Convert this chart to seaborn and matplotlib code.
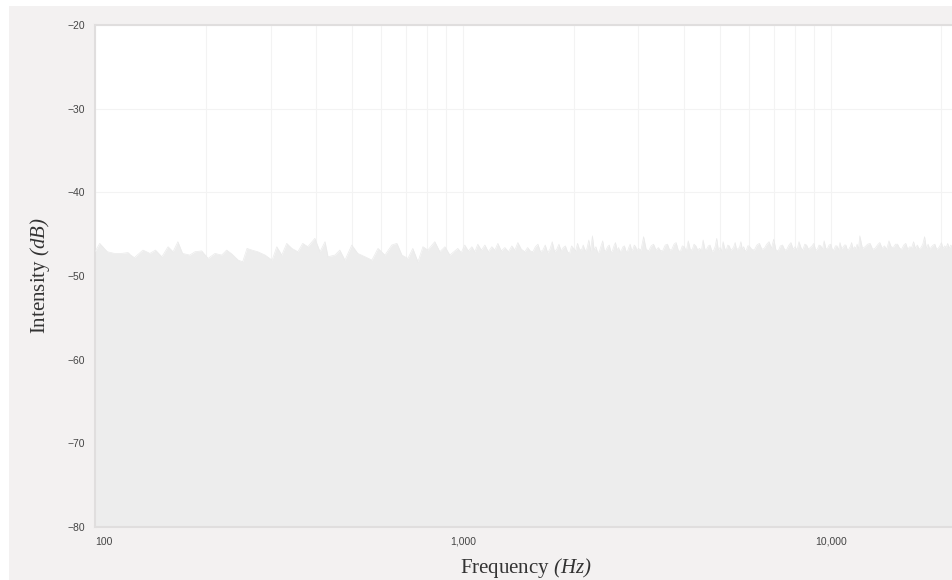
import matplotlib
matplotlib.use("Agg")
import matplotlib.pyplot as plt
import pandas as pd
import seaborn as sns
from matplotlib.patches import Rectangle
from matplotlib.ticker import FixedLocator, LogLocator, NullFormatter

# Noise-floor spectrum, low band (Hz / dB)
freq_low = [100, 103, 108, 113, 118, 123, 125, 128, 135, 141,
            146, 152, 158, 163, 168, 173, 181, 187, 195, 203,
            212, 221, 228, 236, 245, 252, 259, 267, 277, 290,
            303, 312, 322, 332, 343, 356, 367, 379, 396, 409,
            422, 430, 449, 463, 478, 499, 518, 542, 566, 588,
            614, 641, 662, 683, 709, 731, 755, 779, 803, 839,
            866, 894, 922, 969, 990, 1012, 1035, 1058, 1078, 1098,
            1123, 1148, 1173, 1199, 1222, 1245, 1272, 1301, 1330, 1359,
            1385, 1411, 1442, 1474]
level_low = [-47.1, -46.1, -47.1, -47.3, -47.3, -47.2, -47.5, -47.8, -46.9, -47.3,
             -46.9, -47.7, -46.5, -47.1, -45.9, -47.3, -47.5, -47.1, -47.0, -47.9,
             -47.3, -47.5, -46.9, -47.4, -48.1, -48.3, -46.7, -46.9, -47.1, -47.5,
             -48.1, -46.5, -47.5, -46.1, -46.7, -47.1, -46.1, -46.5, -45.5, -47.1,
             -45.9, -47.7, -47.5, -46.9, -48.1, -46.3, -47.3, -47.7, -48.1, -46.7,
             -47.5, -46.3, -46.1, -47.5, -47.9, -46.7, -48.3, -46.5, -46.9, -45.9,
             -47.1, -46.5, -47.5, -46.7, -47.2, -46.3, -47.0, -46.5, -47.1, -46.2,
             -46.9, -46.3, -47.1, -46.5, -46.9, -46.1, -47.0, -46.6, -47.1, -46.4,
             -46.9, -46.0, -46.8, -47.1]

# Mid band
freq_mid = [1500, 1525, 1550, 1575, 1600, 1625, 1650, 1675, 1700, 1725,
            1750, 1775, 1800, 1825, 1850, 1875, 1900, 1925, 1950, 1975,
            2000, 2025, 2050, 2075, 2100, 2125, 2150, 2175, 2200, 2225,
            2250, 2275, 2300, 2325, 2350, 2375, 2400, 2425, 2450, 2475,
            2500, 2525, 2550, 2575, 2600, 2625, 2650, 2675, 2700, 2725,
            2750, 2775, 2800, 2825, 2850, 2875, 2900, 2925, 2950, 2975]
level_mid = [-46.6, -47.0, -47.1, -46.5, -46.2, -47.1, -46.9, -46.3, -47.2, -46.8,
             -45.9, -47.1, -46.8, -46.2, -47.0, -46.6, -46.4, -47.1, -47.3, -46.4,
             -46.7, -47.0, -46.1, -46.8, -46.9, -46.3, -47.0, -46.7, -45.7, -47.0,
             -45.2, -46.9, -46.5, -47.2, -47.1, -46.4, -45.8, -47.0, -46.9, -46.5,
             -46.3, -47.1, -47.0, -46.4, -46.0, -46.9, -46.6, -47.1, -46.9, -46.5,
             -46.4, -47.0, -47.1, -46.6, -46.2, -46.9, -46.8, -46.3, -46.5, -47.0]

# Upper-mid band
freq_upper = [3000, 3050, 3100, 3150, 3200, 3250, 3300, 3350, 3400, 3450,
              3500, 3550, 3600, 3650, 3700, 3750, 3800, 3850, 3900, 3950,
              4000, 4050, 4100, 4150, 4200, 4250, 4300, 4350, 4400, 4450,
              4500, 4550, 4600, 4650, 4700, 4750, 4800, 4850, 4900, 4950,
              5000, 5050, 5100, 5150, 5200, 5250, 5300, 5350, 5400, 5450,
              5500, 5550, 5600, 5650, 5700, 5750, 5800, 5850, 5900, 5950]
level_upper = [-46.7, -46.9, -45.3, -46.8, -47.0, -46.4, -46.2, -46.9, -46.6, -47.0,
               -46.9, -46.3, -46.2, -46.9, -46.8, -46.2, -46.0, -46.9, -47.1, -46.4,
               -46.5, -47.0, -45.8, -46.8, -46.9, -46.2, -46.4, -46.9, -46.7, -47.0,
               -45.7, -46.8, -46.8, -46.4, -46.3, -47.0, -47.0, -46.5, -45.5, -46.9,
               -46.6, -47.0, -45.9, -46.7, -46.9, -46.3, -46.4, -46.9, -46.8, -46.5,
               -46.0, -46.9, -46.7, -46.6, -45.9, -46.8, -46.5, -47.0, -46.9, -46.4]

# Presence band
freq_presence = [6000, 6100, 6200, 6300, 6400, 6500, 6600, 6700, 6800, 6900,
                 7000, 7100, 7200, 7300, 7400, 7500, 7600, 7700, 7800, 7900,
                 8000, 8100, 8200, 8300, 8400, 8500, 8600, 8700, 8800, 8900,
                 9000, 9100, 9200, 9300, 9400, 9500, 9600, 9700, 9800, 9900,
                 10000, 10100, 10200, 10300, 10400, 10500, 10600, 10700, 10800, 10900,
                 11000, 11100, 11200, 11300, 11400, 11500, 11600, 11700, 11800, 11900]
level_presence = [-46.4, -46.8, -46.9, -46.3, -46.1, -46.8, -46.7, -46.2, -45.9, -46.7,
                  -45.6, -46.9, -47.0, -46.4, -46.3, -46.9, -46.8, -46.3, -46.0, -46.8,
                  -46.5, -46.9, -45.9, -46.6, -46.9, -46.2, -46.3, -46.8, -46.6, -46.4,
                  -46.1, -46.9, -46.8, -46.3, -46.4, -46.8, -45.8, -46.7, -46.7, -46.3,
                  -46.2, -46.8, -46.9, -46.4, -46.4, -46.9, -46.0, -46.7, -46.6, -46.3,
                  -46.3, -46.9, -46.8, -46.5, -46.0, -46.8, -46.5, -46.7, -46.2, -46.8]

# Air band
freq_air = [12000, 12200, 12400, 12600, 12800, 13000, 13200, 13400, 13600, 13800,
            14000, 14200, 14400, 14600, 14800, 15000, 15200, 15400, 15600, 15800,
            16000, 16200, 16400, 16600, 16800, 17000, 17200, 17400, 17600, 17800,
            18000, 18200, 18400, 18600, 18800, 19000, 19200, 19400, 19600, 19800,
            20000, 20200, 20400, 20600, 20800, 21000, 21200, 21400, 21600]
level_air = [-45.2, -46.7, -46.5, -46.2, -46.1, -46.8, -46.7, -46.3, -46.0, -46.7,
             -46.4, -46.8, -45.8, -46.5, -46.6, -46.2, -46.2, -46.7, -46.8, -46.3,
             -46.1, -46.8, -46.5, -46.6, -45.9, -46.7, -46.3, -46.8, -46.6, -46.2,
             -45.3, -46.7, -46.2, -46.8, -46.5, -46.3, -46.2, -46.8, -46.7, -46.4,
             -46.0, -46.7, -46.4, -46.6, -46.1, -46.7, -46.3, -46.5, -46.0]

x_ticks = [100, 1000, 10000]
x_tick_labels = ["100", "1,000", "10,000"]
y_ticks = [-80, -70, -60, -50, -40, -30, -20]

spectrum = pd.DataFrame({
    "Frequency": freq_low + freq_mid + freq_upper + freq_presence + freq_air,
    "Intensity": level_low + level_mid + level_upper + level_presence + level_air,
})

sns.set_theme(style="white")
plt.rcParams["font.family"] = ["Liberation Sans", "DejaVu Sans"]
plt.rcParams["mathtext.fontset"] = "custom"
plt.rcParams["mathtext.rm"] = "Liberation Serif:italic"
plt.rcParams["mathtext.it"] = "Liberation Serif:italic"

W, H = 953, 580
fig = plt.figure(figsize=(W / 100, H / 100), dpi=100, facecolor="white")
fig.patches.append(Rectangle((9 / W, 0), 1, 1 - 6 / H, transform=fig.transFigure,
                             facecolor="#f3f1f1", edgecolor="none", zorder=-1))

ax = fig.add_axes([95 / W, 53 / H, 862 / W, 502 / H])
ax.set_facecolor("white")
ax.set_xscale("log")

sns.lineplot(data=spectrum, x="Frequency", y="Intensity", ax=ax,
             color="#eaeaea", linewidth=0.5, zorder=3)
ax.fill_between(spectrum["Frequency"], spectrum["Intensity"], -80,
                color="#ededed", linewidth=0, zorder=2)

ax.set_xlim(100, 22050)
ax.set_ylim(-80, -20)

ax.xaxis.set_major_locator(FixedLocator(x_ticks))
ax.xaxis.set_minor_locator(LogLocator(base=10, subs=range(2, 10)))
ax.xaxis.set_minor_formatter(NullFormatter())
ax.set_xticklabels(x_tick_labels)
ax.set_yticks(y_ticks)
ax.xaxis.get_ticklabels()[0].set_horizontalalignment("left")

ax.set_axisbelow(True)
ax.grid(True, which="both", axis="x", color="#f3f3f3", linewidth=0.8)
ax.grid(True, which="major", axis="y", color="#f3f3f3", linewidth=0.8)

ax.tick_params(axis="both", which="both", length=0, labelsize=7.5,
               labelcolor="#454545", pad=7)

for side in ["top", "left", "bottom"]:
    ax.spines[side].set_color("#e0dede")
    ax.spines[side].set_linewidth(1.5)
ax.spines["right"].set_visible(False)

ax.set_xlabel(r"Frequency $\mathit{(Hz)}$", fontfamily="Liberation Serif",
              fontsize=15, color="#333333")
ax.set_ylabel(r"Intensity $\mathit{(dB)}$", fontfamily="Liberation Serif",
              fontsize=15, color="#333333")
ax.xaxis.set_label_coords((526 - 95) / 862, -0.058)
ax.yaxis.set_label_coords(-0.05, 0.5)

fig.savefig("out.png", dpi=100, facecolor=fig.get_facecolor())
